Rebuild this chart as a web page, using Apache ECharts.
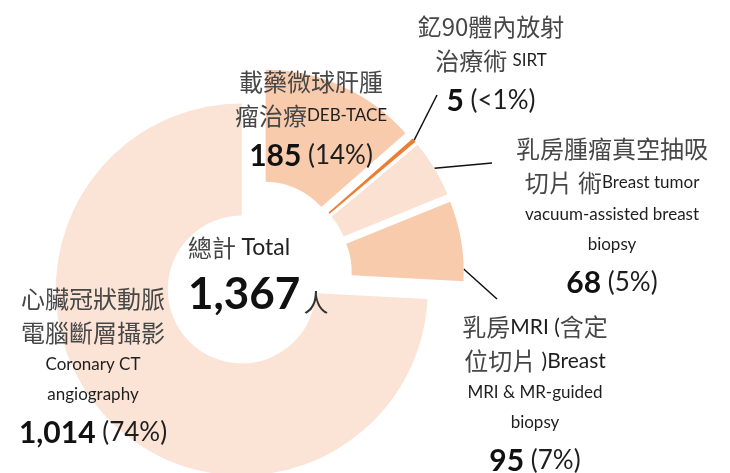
<!DOCTYPE html>
<html>
<head>
<meta charset="utf-8">
<script src="https://cdn.jsdelivr.net/npm/echarts@6/dist/echarts.min.js"></script>
<style>
html, body { margin: 0; padding: 0; background: #fff; }
#main { width: 730px; height: 473px; }
</style>
</head>
<body>
<div id="main"></div>
<script>
// 各項檢查人數 (順時針, 從 12 點鐘方向開始)
let names = ['DEB-TACE', 'SIRT', 'Breast tumor VAB', 'Breast MRI', 'Coronary CTA'];
let values = [185, 5, 68, 95, 1014];
// 標籤文字 (c = 中文, e = 英文, E = 大英文)
let labelTexts = [
    '{c|載藥微球肝腫}\n{c|瘤治療}{e|DEB-TACE}',
    '{c|釔90體內放射}\n{c|治療術 }{e|SIRT}',
    '{c|乳房腫瘤真空抽吸}\n{c|切片 術}{e|Breast tumor}\n{e|vacuum-assisted breast}\n{e|biopsy}',
    '{c|乳房}{E|MRI (}{c|含定}\n{c|位切片 }{E|)Breast}\n{e|MRI & MR-guided}\n{e|biopsy}',
    '{c|心臟冠狀動脈}\n{c|電腦斷層攝影}\n{e|Coronary CT}\n{e|angiography}'
];
let colors = ['#F8CBAD', '#ED7D31', '#FBE1D2', '#F8CBAD', '#FBE3D6'];

// 版面設定
let center = [257, 275];
let radius = [74, 186];
let offset = 21;
let labelPos = [[311, 122], [491, 67], [612, 219], [535, 397], [93, 369]];
// 標籤線: [扇區內位置比例, 終點相對標籤的位移]
let guide = [null, [0.5, [-54, 28]], [0.5, [-120, -56]], [0.85, [-38, -98]], null];

let total = values.reduce((a, b) => a + b, 0);

function fmt(n) {
    return n.toLocaleString('en-US');
}

function pctText(v) {
    let p = v / total * 100;
    return p < 1 ? '<1%' : Math.round(p) + '%';
}

// 扇區外緣上的一點 (含選中位移)
function edgePoint(idx) {
    let before = 0;
    for (let i = 0; i < idx; i++) before += values[i];
    let a0 = before / total * 2 * Math.PI;
    let a1 = (before + values[idx]) / total * 2 * Math.PI;
    let mid = (a0 + a1) / 2;
    let a = a0 + (a1 - a0) * guide[idx][0];
    return [
        center[0] + offset * Math.sin(mid) + radius[1] * Math.sin(a),
        center[1] - offset * Math.cos(mid) - radius[1] * Math.cos(a)
    ];
}

let myChart = echarts.init(document.getElementById('main'), null, {renderer: 'canvas'});

// 扇區 (全部選中, 向外位移)
let pieData = names.map(function (n, i) {
    return {
        name: n,
        value: values[i],
        selected: true,
        itemStyle: {color: colors[i]}
    };
});

// 標籤層 (透明扇區, 只畫文字與標籤線)
let labelData = names.map(function (n, i) {
    return {
        name: n,
        value: values[i],
        labelLine: {show: guide[i] != null}
    };
});

let option = {
    backgroundColor: '#ffffff',
    animation: false,
    title: {
        text: '{a|總計 }{b|Total}\n{n|' + fmt(total) + '}{r|人}',
        left: 188,
        top: 229,
        padding: 0,
        textAlign: 'left',
        textStyle: {
            fontWeight: 'normal',
            rich: {
                a: {fontFamily: 'Noto Sans CJK TC', fontWeight: 'normal', fontSize: 24, color: '#444', lineHeight: 38},
                b: {fontFamily: 'Lato', fontWeight: 'normal', fontSize: 23, color: '#222', lineHeight: 38},
                n: {fontFamily: 'Lato', fontWeight: 'bold', fontSize: 44, color: '#111', lineHeight: 56},
                r: {fontFamily: 'Noto Sans CJK TC', fontWeight: 'normal', fontSize: 25, color: '#333', lineHeight: 56, padding: [14, 0, 0, 3]}
            }
        }
    },
    series: [
        {
            type: 'pie',
            center: center,
            radius: radius,
            startAngle: 90,
            clockwise: true,
            selectedMode: 'multiple',
            selectedOffset: offset,
            silent: true,
            emphasis: {disabled: true},
            itemStyle: {borderWidth: 0},
            label: {show: false},
            labelLine: {show: false},
            data: pieData
        },
        {
            type: 'pie',
            center: center,
            radius: radius,
            startAngle: 90,
            clockwise: true,
            selectedMode: false,
            silent: true,
            avoidLabelOverlap: false,
            emphasis: {disabled: true},
            itemStyle: {color: 'rgba(0,0,0,0)', borderWidth: 0},
            label: {
                show: true,
                position: 'outside',
                align: 'center',
                formatter: function (p) {
                    return labelTexts[p.dataIndex] + '\n{n|' + fmt(p.value) + '}{p| (' + pctText(p.value) + ')}';
                },
                rich: {
                    c: {fontFamily: 'Noto Sans CJK TC', fontSize: 24, color: '#474747', lineHeight: 34},
                    e: {fontFamily: 'Lato', fontSize: 17, color: '#1e1e1e', lineHeight: 30},
                    E: {fontFamily: 'Lato', fontSize: 21, color: '#1e1e1e', lineHeight: 34},
                    n: {fontFamily: 'Lato', fontWeight: 'bold', fontSize: 30, color: '#111', lineHeight: 46},
                    p: {fontFamily: 'Lato', fontSize: 26, color: '#1e1e1e', lineHeight: 46}
                }
            },
            labelLine: {
                show: true,
                lineStyle: {color: '#111', width: 1.5}
            },
            labelLayout: function (params) {
                let i = params.dataIndex;
                let res = {x: labelPos[i][0], y: labelPos[i][1], align: 'center', verticalAlign: 'middle'};
                if (guide[i]) {
                    res.labelLinePoints = [
                        edgePoint(i),
                        [labelPos[i][0] + guide[i][1][0], labelPos[i][1] + guide[i][1][1]]
                    ];
                }
                return res;
            },
            data: labelData
        }
    ]
};

myChart.setOption(option);
</script>
</body>
</html>
